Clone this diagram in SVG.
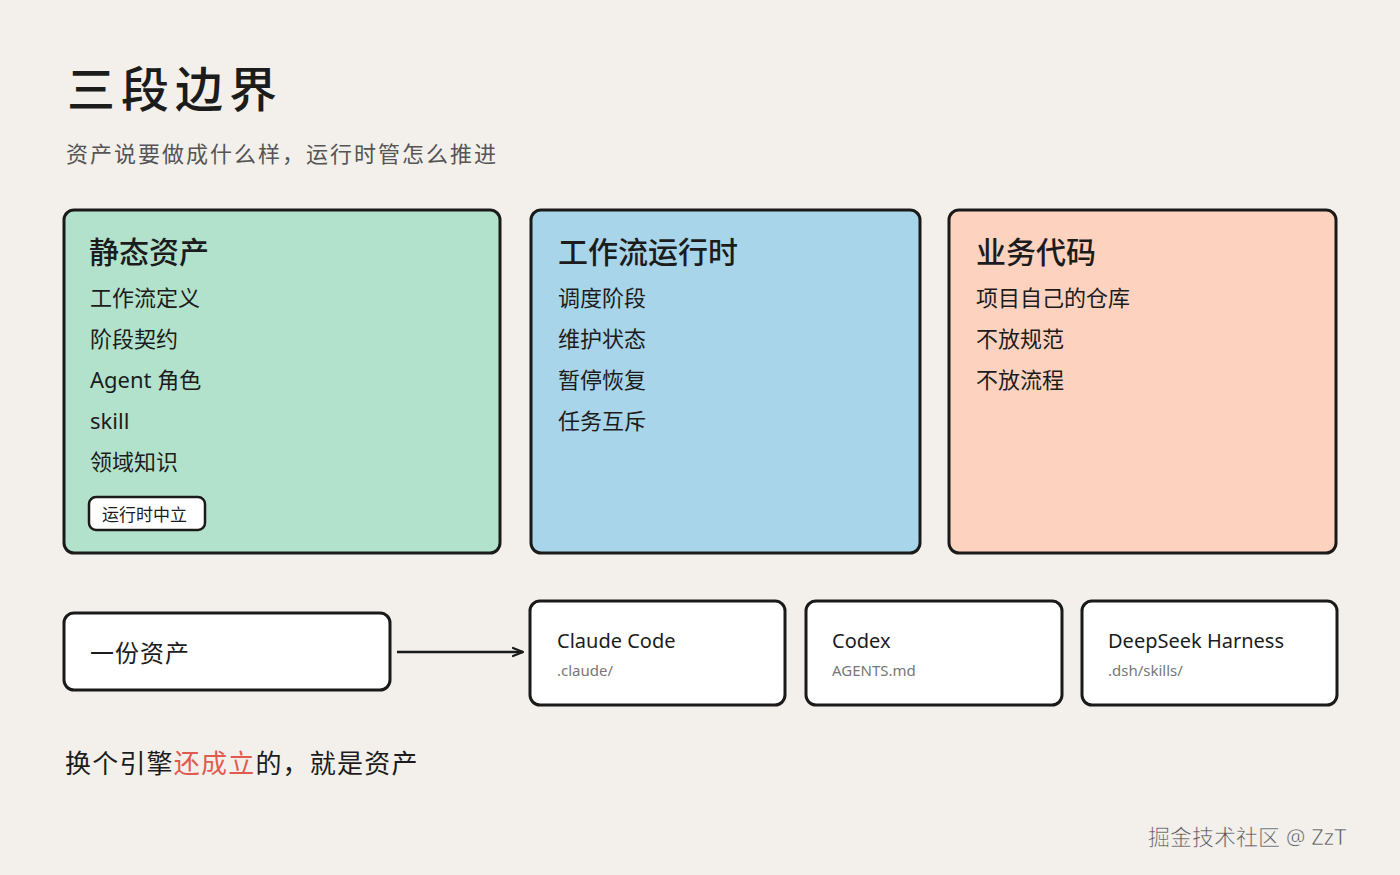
<svg xmlns="http://www.w3.org/2000/svg" width="1400" height="875" viewBox="0 0 1400 875">
<style>
text{font-family:"Noto Sans","Noto Sans CJK SC",sans-serif;fill:#1c1c1c}
.card{stroke:#1a1a1a;stroke-width:3;stroke-linejoin:round}
.h{font-size:30px;font-weight:500}
.it{font-size:22px}
.nm{font-size:20px}
.sub{font-size:15px;fill:#777}
</style>
<defs>
<marker id="arr" viewBox="0 0 12 12" refX="11" refY="6" markerWidth="12" markerHeight="12" orient="auto" markerUnits="userSpaceOnUse">
<path d="M1,2 L11,6 L1,10" fill="none" stroke="#1a1a1a" stroke-width="2.2" stroke-linejoin="round" stroke-linecap="round"/>
</marker>
</defs>
<rect width="1400" height="875" fill="#f3f0eb"/>
<text x="67" y="107" font-size="48" font-weight="500" letter-spacing="6">三段边界</text>
<text x="66" y="162" font-size="22" letter-spacing="2" style="fill:#555">资产说要做成什么样，运行时管怎么推进</text>

<g id="static">
<rect class="card" x="64" y="210" width="436" height="343" rx="10" fill="#b3e2cc"/>
<text class="h" x="89" y="263">静态资产</text>
<text class="it" x="90" y="306">工作流定义</text>
<text class="it" x="90" y="347">阶段契约</text>
<text class="it" x="90" y="388">Agent 角色</text>
<text class="it" x="90" y="429">skill</text>
<text class="it" x="90" y="470">领域知识</text>
<rect x="89" y="497" width="116" height="33" rx="7" fill="#fff" stroke="#1a1a1a" stroke-width="2.5"/>
<text x="102" y="521" font-size="17">运行时中立</text>
</g>
<g id="runtime">
<rect class="card" x="531" y="210" width="389" height="343" rx="10" fill="#a8d5e9"/>
<text class="h" x="558" y="263">工作流运行时</text>
<text class="it" x="558" y="306">调度阶段</text>
<text class="it" x="558" y="347">维护状态</text>
<text class="it" x="558" y="388">暂停恢复</text>
<text class="it" x="558" y="429">任务互斥</text>
</g>
<g id="business">
<rect class="card" x="949" y="210" width="387" height="343" rx="10" fill="#fdd3c0"/>
<text class="h" x="976" y="263">业务代码</text>
<text class="it" x="976" y="306">项目自己的仓库</text>
<text class="it" x="976" y="347">不放规范</text>
<text class="it" x="976" y="388">不放流程</text>
</g>

<g id="asset">
<rect class="card" x="64" y="613" width="326" height="77" rx="10" fill="#fff"/>
<text x="90" y="662" font-size="24" letter-spacing="1">一份资产</text>
</g>
<g id="claude">
<rect class="card" x="530" y="601" width="255" height="104" rx="10" fill="#fff"/>
<text class="nm" x="557" y="648">Claude Code</text>
<text class="sub" x="557" y="676">.claude/</text>
</g>
<g id="codex">
<rect class="card" x="806" y="601" width="256" height="104" rx="10" fill="#fff"/>
<text class="nm" x="832" y="648">Codex</text>
<text class="sub" x="832" y="676">AGENTS.md</text>
</g>
<g id="deepseek">
<rect class="card" x="1082" y="601" width="255" height="104" rx="10" fill="#fff"/>
<text class="nm" x="1108" y="648">DeepSeek Harness</text>
<text class="sub" x="1108" y="676">.dsh/skills/</text>
</g>

<g id="connectors">
<line x1="397" y1="652" x2="523" y2="652" stroke="#1a1a1a" stroke-width="2.5" marker-end="url(#arr)"/>
</g>

<text x="65" y="773" font-size="26" letter-spacing="1.2">换个引擎<tspan style="fill:#e05a4f">还成立</tspan>的，就是资产</text>
<text x="1148" y="845" font-size="22" style="fill:#555" stroke="#fff" stroke-width="0.5">掘金技术社区 @ ZzT</text>
</svg>
